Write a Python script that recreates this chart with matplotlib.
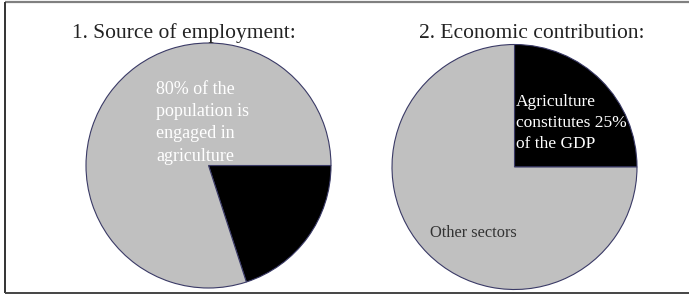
import matplotlib
matplotlib.use("Agg")
import matplotlib.pyplot as plt

# data
employment_labels = ["Agriculture", "Other"]
employment_share = [20, 80]
gdp_labels = ["Agriculture", "Other sectors"]
gdp_share = [25, 75]

titles = ["1. Source of employment:", "2. Economic contribution:"]
employment_note = "80% of the\npopulation is\nengaged in\nagriculture"
gdp_note = "Agriculture\nconstitutes 25%\nof the GDP"
other_note = "Other sectors"

W, H = 689, 294
fig = plt.figure(figsize=(W / 100, H / 100), dpi=100)
ax = fig.add_axes([0, 0, 1, 1])

font = "Liberation Serif"
wedge_style = dict(edgecolor="#3a3a66", linewidth=0.8)
colors = ["black", "#c0c0c0"]

# pie 1
ax.pie(employment_share, colors=colors, startangle=0, counterclock=False,
       center=(208.5, H - 165.5), radius=122.5, wedgeprops=wedge_style,
       frame=True)
# pie 2
ax.pie(gdp_share, colors=colors, startangle=90, counterclock=False,
       center=(514.5, H - 167), radius=122.5, wedgeprops=wedge_style,
       frame=True)
ax.set_xlim(0, W)
ax.set_ylim(0, H)
ax.set_aspect("equal")
ax.axis("off")

ax.text(184, H - 33, titles[0], ha="center", va="center", fontsize=15.5,
        family=font, color="#222222")
ax.text(532, H - 33, titles[1], ha="center", va="center", fontsize=15.5,
        family=font, color="#222222")

ax.text(156, H - 81, employment_note, ha="left", va="top", fontsize=13,
        family=font, color="white", linespacing=1.4)
ax.text(516, H - 94, gdp_note, ha="left", va="top", fontsize=12.5,
        family=font, color="white", linespacing=1.42)
ax.text(430, H - 233, other_note, ha="left", va="center", fontsize=11.8,
        family=font, color="#333333")

# frame around slide
ax.plot([5, W], [H - 2, H - 2], color="#808080", lw=1.6, solid_capstyle="butt")
ax.plot([5, 5], [H - 2, H - 293], color="#333333", lw=1.4, solid_capstyle="butt")
ax.plot([5, W], [H - 292.5, H - 292.5], color="#444444", lw=1.4, solid_capstyle="butt")

fig.savefig("out.png", dpi=100)
